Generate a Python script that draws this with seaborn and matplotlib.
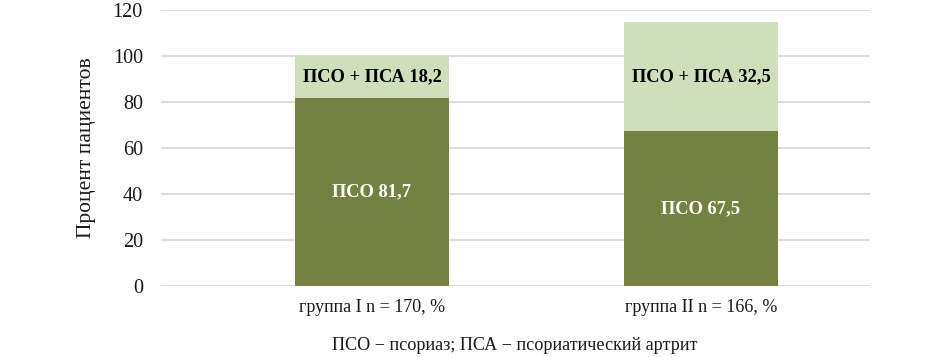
import matplotlib
matplotlib.use("Agg")
import matplotlib.pyplot as plt
import seaborn as sns
import pandas as pd

categories = ["группа I n = 170, %", "группа II n = 166, %"]
pso_values = [81.7, 67.5]
combo_drawn = [18.2, 47.3]
combo_labels = ["18,2", "32,5"]
pso_labels = ["81,7", "67,5"]
yticks = [0, 20, 40, 60, 80, 100, 120]

dark = "#748140"
light = "#d0dfbb"

sns.set_theme(style="white")
plt.rcParams["font.family"] = ["Liberation Serif", "DejaVu Serif"]

df = pd.DataFrame({
    "cat": categories,
    "pso": pso_values,
    "total": [a + b for a, b in zip(pso_values, combo_drawn)],
})

fig = plt.figure(figsize=(9.45, 3.57), dpi=100)
ax = fig.add_axes([161 / 945, 1 - 286 / 357, 709 / 945, 276 / 357])

sns.barplot(data=df, x="cat", y="total", color=light, saturation=1, width=0.468,
            linewidth=0, edgecolor="none", ax=ax, zorder=2)
sns.barplot(data=df, x="cat", y="pso", color=dark, saturation=1, width=0.468,
            linewidth=0, edgecolor="none", ax=ax, zorder=3)

ax.set_ylim(0, 120)
ax.set_xlim(-0.641, 1.514)
ax.set_yticks(yticks)
ax.yaxis.grid(True, color="#d9d9d9", linewidth=1.3, zorder=0)
ax.set_axisbelow(True)
for s in ax.spines.values():
    s.set_visible(False)
ax.tick_params(axis="y", length=0, pad=13, labelsize=14.5, labelcolor="#1a1a1a")
ax.tick_params(axis="x", length=0, pad=9, labelsize=13, labelcolor="#1a1a1a")
ax.set_xlabel("")
ax.set_ylabel("Процент пациентов", fontsize=15.5, color="#1a1a1a", labelpad=12)

for i in range(len(categories)):
    p = pso_values[i]
    c = combo_drawn[i]
    ax.text(i, p / 2, f"ПСО {pso_labels[i]}", ha="center", va="center",
            fontsize=13.3, fontweight="bold", color="white", zorder=5)
    ax.text(i, p + c / 2, f"ПСО + ПСА {combo_labels[i]}", ha="center", va="center",
            fontsize=13.3, fontweight="bold", color="black", zorder=5)

fig.text(515 / 945, 1 - 345 / 357, "ПСО − псориаз; ПСА − псориатический артрит",
         ha="center", va="center", fontsize=13.1, color="#1a1a1a")

fig.savefig("out.png", dpi=100)
